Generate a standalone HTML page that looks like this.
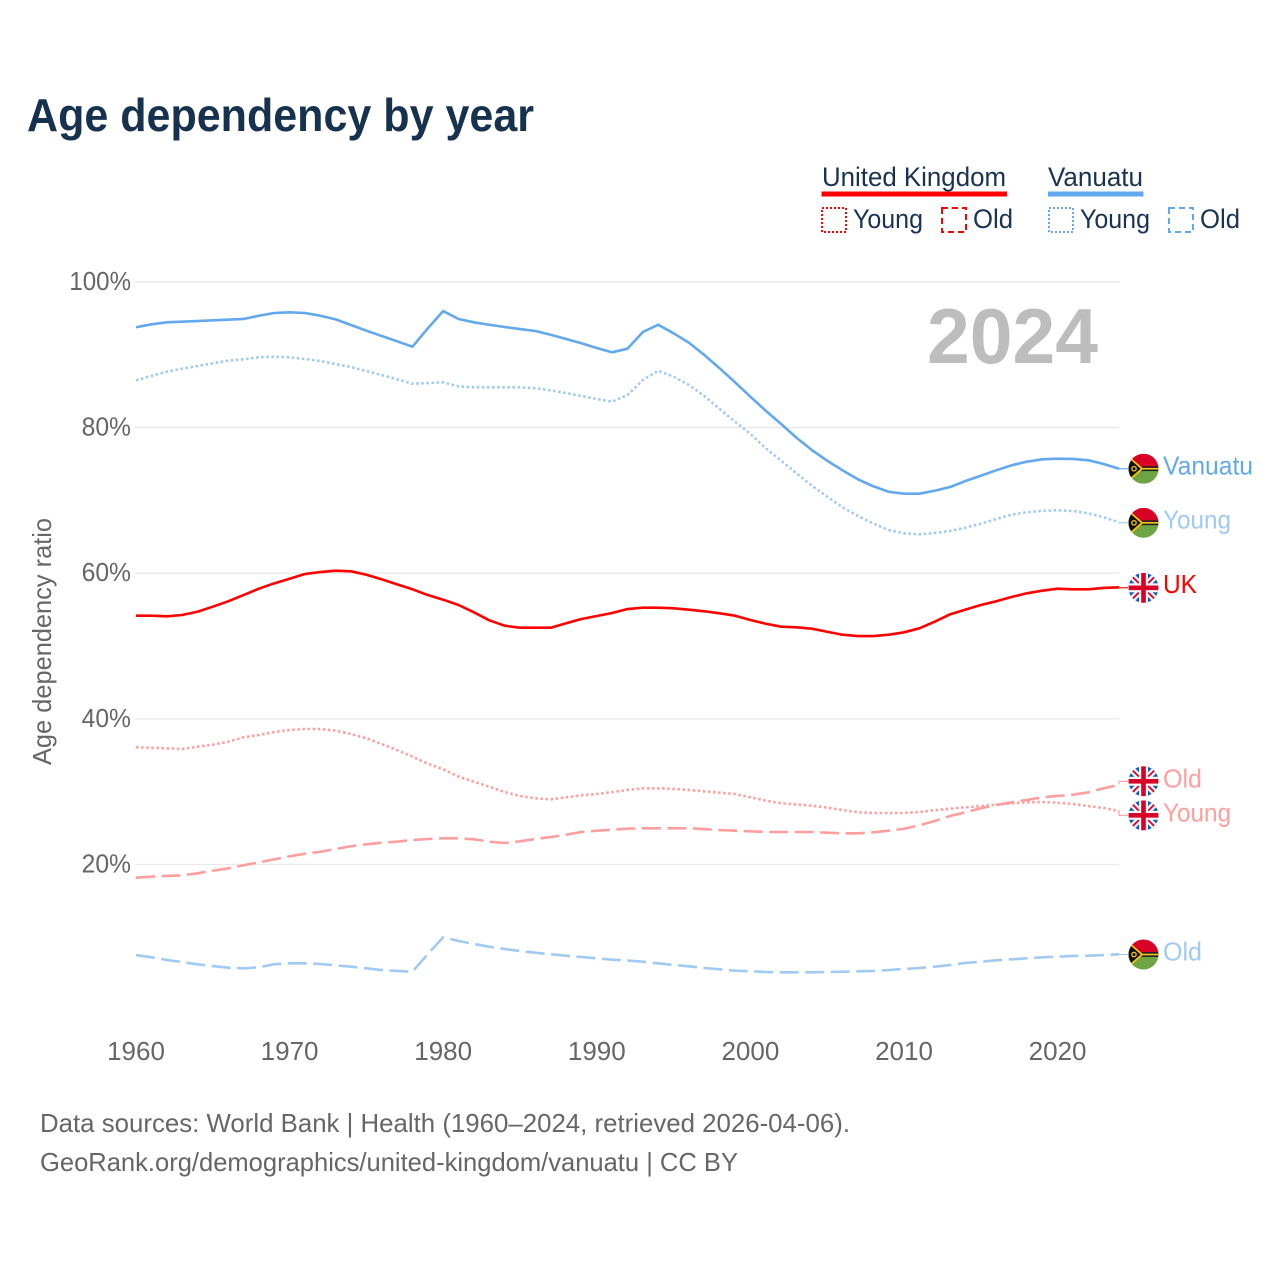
<!DOCTYPE html>
<html lang="en">
<head>
<meta charset="utf-8">
<title>Age dependency by year</title>
<style>
  html, body { margin: 0; padding: 0; background: #fff; }
  svg { display: block; }
  text { font-family: "Liberation Sans", sans-serif; }
</style>
</head>
<body>
<svg id="chart" xmlns="http://www.w3.org/2000/svg" width="1280" height="1280" viewBox="0 0 1280 1280">
  <defs>
    <clipPath id="flag-clip"><circle cx="0" cy="0" r="15"/></clipPath>
  </defs>
  <rect x="0" y="0" width="1280" height="1280" fill="#fff"/>
  <text x="27" y="131" font-size="46" font-weight="700" fill="#17324f" textLength="507" lengthAdjust="spacingAndGlyphs">Age dependency by year</text>

  <g>
    <text x="822" y="186" font-size="26.5" fill="#1a3352" textLength="184" lengthAdjust="spacingAndGlyphs">United Kingdom</text>
    <rect x="821.5" y="191.5" width="185.5" height="5" fill="#ff0000"/>
    <text x="1048" y="186" font-size="26.5" fill="#1a3352" textLength="95" lengthAdjust="spacingAndGlyphs">Vanuatu</text>
    <rect x="1048" y="191.5" width="95.5" height="5" fill="#62a8ee"/>

    <rect x="822" y="208" width="24" height="24" fill="none" stroke="#ff0000" stroke-width="2" stroke-dasharray="2 2"/>
    <text x="853" y="228" font-size="26.5" fill="#1a3352" textLength="70" lengthAdjust="spacingAndGlyphs">Young</text>
    <rect x="942" y="208" width="24" height="24" fill="none" stroke="#ff0000" stroke-width="2" stroke-dasharray="6 4"/>
    <text x="973" y="228" font-size="26.5" fill="#1a3352" textLength="40" lengthAdjust="spacingAndGlyphs">Old</text>

    <rect x="1049" y="208" width="24" height="24" fill="none" stroke="#62a8ee" stroke-width="2" stroke-dasharray="2 2"/>
    <text x="1080" y="228" font-size="26.5" fill="#1a3352" textLength="70" lengthAdjust="spacingAndGlyphs">Young</text>
    <rect x="1169" y="208" width="24" height="24" fill="none" stroke="#62a8ee" stroke-width="2" stroke-dasharray="6 4"/>
    <text x="1200" y="228" font-size="26.5" fill="#1a3352" textLength="40" lengthAdjust="spacingAndGlyphs">Old</text>
  </g>

  <g id="grid"></g>
  <g id="y-ticks"></g>
  <g id="x-ticks"></g>
  <text transform="translate(51,765) rotate(-90)" font-size="26" fill="#666666" textLength="247" lengthAdjust="spacingAndGlyphs">Age dependency ratio</text>
  <text x="927" y="363" font-size="78" font-weight="700" fill="#bdbdbd" textLength="171" lengthAdjust="spacingAndGlyphs">2024</text>
  <g id="series"></g>
  <g id="ends"></g>

  <text x="40" y="1132" font-size="26" fill="#666666" textLength="810" lengthAdjust="spacingAndGlyphs">Data sources: World Bank | Health (1960–2024, retrieved 2026-04-06).</text>
  <text x="40" y="1171" font-size="26" fill="#666666" textLength="698" lengthAdjust="spacingAndGlyphs">GeoRank.org/demographics/united-kingdom/vanuatu | CC BY</text>
</svg>

<script>
var startYear = 1960;
var xTickYears = [1960, 1970, 1980, 1990, 2000, 2010, 2020];
var yTickValues = [20, 40, 60, 80, 100];

var vanuatuTotal = [93.78,94.19,94.46,94.55,94.64,94.74,94.82,94.92,95.37,95.74,95.84,95.74,95.37,94.87,94.09,93.31,92.58,91.85,91.11,93.64,96.01,94.92,94.46,94.13,93.82,93.54,93.27,92.76,92.17,91.58,90.93,90.34,90.84,93.13,94.13,92.95,91.66,89.97,88.14,86.22,84.24,82.32,80.49,78.61,76.92,75.45,74.13,72.90,71.94,71.19,70.92,70.92,71.33,71.84,72.66,73.39,74.13,74.82,75.32,75.64,75.73,75.69,75.51,75.00,74.35];
var vanuatuYoung = [86.50,87.09,87.68,88.09,88.46,88.83,89.19,89.38,89.66,89.74,89.66,89.42,89.15,88.73,88.32,87.77,87.22,86.63,86.03,86.12,86.22,85.67,85.53,85.53,85.53,85.53,85.40,85.12,84.75,84.34,83.93,83.56,84.48,86.54,87.81,86.99,85.85,84.34,82.55,80.81,79.12,77.16,75.45,73.72,72.02,70.51,69.05,67.86,66.83,65.93,65.48,65.34,65.52,65.80,66.25,66.80,67.44,68.04,68.37,68.58,68.64,68.54,68.23,67.68,66.99];
var vanuatuOld = [7.55,7.24,6.87,6.59,6.28,6.04,5.81,5.73,5.87,6.28,6.41,6.41,6.32,6.14,5.95,5.73,5.49,5.36,5.26,7.69,9.99,9.48,9.07,8.70,8.38,8.10,7.87,7.65,7.46,7.28,7.10,6.91,6.80,6.63,6.41,6.18,6.00,5.77,5.59,5.40,5.32,5.22,5.18,5.18,5.18,5.22,5.26,5.32,5.36,5.49,5.63,5.77,5.95,6.18,6.46,6.63,6.83,6.96,7.10,7.24,7.32,7.42,7.46,7.55,7.65];
var ukTotal = [54.16,54.16,54.08,54.26,54.71,55.40,56.14,57.00,57.87,58.61,59.24,59.89,60.16,60.34,60.26,59.79,59.16,58.47,57.79,57.00,56.36,55.63,54.63,53.53,52.79,52.51,52.51,52.51,53.12,53.71,54.12,54.53,55.08,55.26,55.26,55.18,54.99,54.77,54.49,54.16,53.57,53.06,52.65,52.57,52.38,51.96,51.55,51.37,51.37,51.55,51.88,52.43,53.34,54.35,54.99,55.63,56.14,56.73,57.24,57.60,57.87,57.79,57.79,57.97,58.06];
var ukYoung = [36.08,36.03,35.95,35.85,36.17,36.44,36.85,37.46,37.77,38.19,38.46,38.60,38.60,38.36,37.91,37.32,36.54,35.71,34.79,33.83,33.06,32.05,31.36,30.67,29.94,29.40,29.08,28.94,29.22,29.49,29.67,29.94,30.22,30.45,30.45,30.36,30.22,30.04,29.85,29.67,29.22,28.75,28.39,28.25,28.06,27.79,27.47,27.16,27.06,27.06,27.06,27.20,27.43,27.65,27.84,28.02,28.20,28.39,28.53,28.57,28.47,28.30,28.02,27.75,27.33];
var ukOld = [18.17,18.31,18.41,18.50,18.78,19.13,19.46,19.88,20.29,20.70,21.11,21.47,21.74,22.12,22.49,22.76,22.98,23.12,23.35,23.49,23.58,23.58,23.45,23.12,22.94,23.17,23.49,23.76,24.08,24.45,24.63,24.77,24.90,24.96,24.96,24.96,24.96,24.86,24.72,24.63,24.55,24.45,24.45,24.45,24.45,24.35,24.27,24.27,24.41,24.63,24.90,25.37,25.96,26.65,27.16,27.71,28.16,28.53,28.85,29.22,29.40,29.57,29.90,30.45,30.95];

var NS = 'http://www.w3.org/2000/svg';
function xScale(year) { return 136 + (year - 1960) * 15.36; }
function yScale(value) { return 1010 - value * 7.28; }
function make(parent, tag, attrs, text) {
  var node = document.createElementNS(NS, tag);
  for (var k in attrs) { node.setAttribute(k, attrs[k]); }
  if (text !== undefined) { node.textContent = text; }
  parent.appendChild(node);
  return node;
}

var gridGroup = document.getElementById('grid');
var yTickGroup = document.getElementById('y-ticks');
var xTickGroup = document.getElementById('x-ticks');
var seriesGroup = document.getElementById('series');
var endGroup = document.getElementById('ends');

yTickValues.forEach(function (v) {
  var line = make(gridGroup, 'line', { x1: 135, x2: 1119, y1: yScale(v), y2: yScale(v), stroke: '#e9e9e9', 'stroke-width': 1.4 });
  
  
  var label = v + '%';
  var tick = make(yTickGroup, 'text', { x: 131, y: yScale(v) + 8, 'text-anchor': 'end', 'font-size': 25.5, fill: '#666666', textLength: label.length * 12.2 + 12.8, lengthAdjust: 'spacingAndGlyphs' }, label);
  
  
});

xTickYears.forEach(function (year) {
  var tick = make(xTickGroup, 'text', { x: xScale(year), y: 1060, 'text-anchor': 'middle', 'font-size': 26, fill: '#666666' }, String(year));
  
  
});

function drawLine(values, color, dash, name) {
  var d = values.map(function (v, i) {
    return (i ? 'L' : 'M') + xScale(startYear + i).toFixed(2) + ' ' + yScale(v).toFixed(2);
  }).join(' ');
  var path = make(seriesGroup, 'path', { d: d, fill: 'none', stroke: color, 'stroke-width': 2.6, 'stroke-linejoin': 'round' });
  if (dash) { path.setAttribute('stroke-dasharray', dash); }
  
  
}

var dotted = '2.5 2.6';
var dashed = '19 6.5';
var blue = '#62a8ee';
var lightBlue = '#a0caf4';
var red = '#ff0000';
var lightRed = '#ff9e9e';

drawLine(vanuatuOld, lightBlue, dashed, 'line-vanuatu-old');
drawLine(ukOld, lightRed, dashed, 'line-uk-old');
drawLine(ukYoung, lightRed, dotted, 'line-uk-young');
drawLine(ukTotal, red, null, 'line-uk-total');
drawLine(vanuatuYoung, lightBlue, dotted, 'line-vanuatu-young');
drawLine(vanuatuTotal, blue, null, 'line-vanuatu-total');

function flagVanuatu(g) {
  make(g, 'rect', { x: -15, y: -15, width: 30, height: 15, fill: '#d80027' });
  make(g, 'rect', { x: -15, y: 0, width: 30, height: 15, fill: '#6da544' });
  make(g, 'rect', { x: -15, y: -2.4, width: 30, height: 4.8, fill: '#222' });
  make(g, 'rect', { x: -4, y: -0.8, width: 20, height: 1.6, fill: '#f5c518' });
  make(g, 'path', { d: 'M-15 -13 L0 0 L-15 13 Z', fill: '#f5c518' });
  make(g, 'path', { d: 'M-15 -10.8 L-2.8 0 L-15 10.8 Z', fill: '#111' });
  make(g, 'circle', { cx: -9.5, cy: 0, r: 2.2, fill: 'none', stroke: '#f5c518', 'stroke-width': 1.3 });
}
function flagUK(g) {
  make(g, 'rect', { x: -15, y: -15, width: 30, height: 30, fill: '#1358b8' });
  make(g, 'path', { d: 'M-15 -15 L15 15 M15 -15 L-15 15', stroke: '#f4f4f4', 'stroke-width': 6.5, fill: 'none' });
  make(g, 'path', { d: 'M-15 -15 L15 15 M15 -15 L-15 15', stroke: '#d80027', 'stroke-width': 1.8, fill: 'none' });
  make(g, 'rect', { x: -15, y: -4.5, width: 30, height: 9, fill: '#f4f4f4' });
  make(g, 'rect', { x: -4.5, y: -15, width: 9, height: 30, fill: '#f4f4f4' });
  make(g, 'rect', { x: -15, y: -2.3, width: 30, height: 4.6, fill: '#d80027' });
  make(g, 'rect', { x: -2.3, y: -15, width: 4.6, height: 30, fill: '#d80027' });
}

function drawEnd(values, color, flagFn, flagName, text, textWidth, nudge, baseline, name) {
  var lastIndex = values.length - 1;
  var x0 = xScale(startYear + lastIndex);
  var y0 = yScale(values[lastIndex]);
  var cy = y0 + nudge;
  var conn = make(endGroup, 'path', { d: 'M' + x0 + ' ' + y0 + ' L' + x0 + ' ' + cy + ' L1128 ' + cy, fill: 'none', stroke: color, 'stroke-width': 1.1 });
  
  
  var g = make(endGroup, 'g', { transform: 'translate(1143.5,' + cy + ')', 'clip-path': 'url(#flag-clip)' });
  
  
  flagFn(g);
  var label = make(endGroup, 'text', { x: 1163, y: cy + baseline, 'font-size': 26, fill: color, textLength: textWidth, lengthAdjust: 'spacingAndGlyphs' }, text);
  
  
}

drawEnd(vanuatuTotal, blue, flagVanuatu, 'vanuatu', 'Vanuatu', 90, 0, 6, 'vanuatu-total');
drawEnd(vanuatuYoung, lightBlue, flagVanuatu, 'vanuatu', 'Young', 68, 0.5, 5.5, 'vanuatu-young');
drawEnd(ukTotal, red, flagUK, 'uk', 'UK', 34, 0.5, 5, 'uk-total');
drawEnd(ukOld, lightRed, flagUK, 'uk', 'Old', 39, -3.4, 6, 'uk-old');
drawEnd(ukYoung, lightRed, flagUK, 'uk', 'Young', 68, 4.3, 6, 'uk-young');
drawEnd(vanuatuOld, lightBlue, flagVanuatu, 'vanuatu', 'Old', 39, 0.2, 6, 'vanuatu-old');
</script>
</body>
</html>
